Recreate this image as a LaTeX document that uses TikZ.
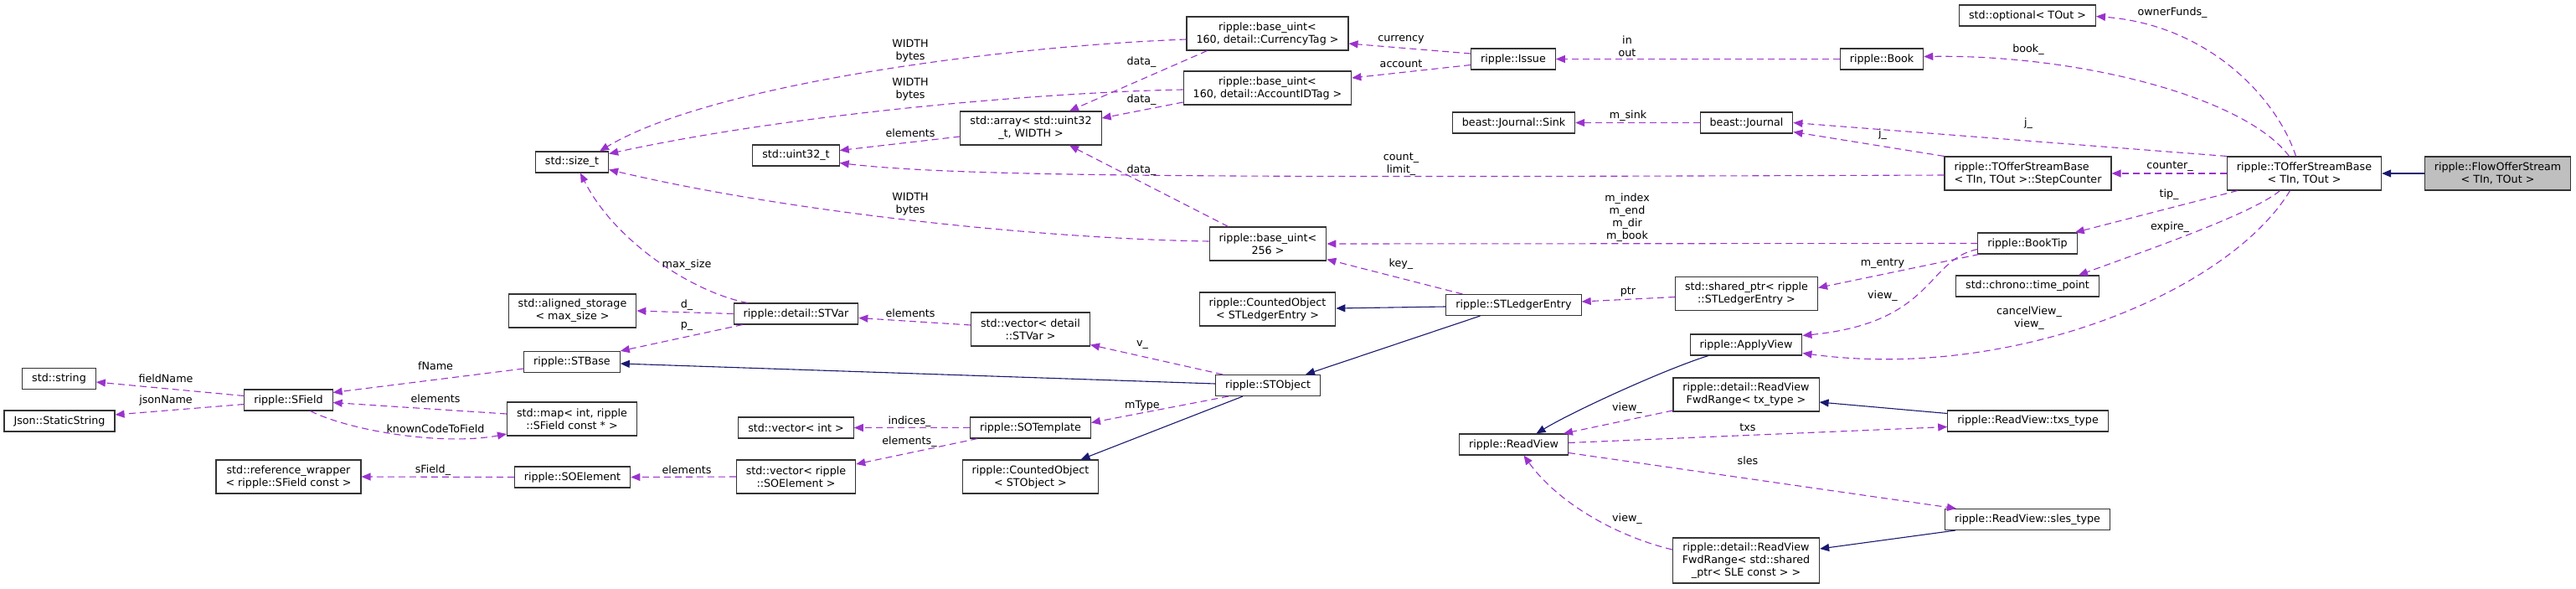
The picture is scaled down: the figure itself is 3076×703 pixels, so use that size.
\documentclass[tikz,border=0pt]{standalone}
\usepackage{fontspec}
\setmainfont{DejaVu Sans}
\usetikzlibrary{arrows.meta}
\definecolor{EdgePurple}{RGB}{154,50,205}
\definecolor{EdgeBlue}{RGB}{25,25,112}
\definecolor{NodeGray}{RGB}{191,191,191}
\tikzset{
	cls/.style={rectangle,draw=black!80,line width=1.1pt,inner xsep=11.5pt,inner ysep=2pt,minimum height=25pt,align=center},
	cls2/.style={cls,minimum height=40pt},
	cls3/.style={cls,minimum height=54pt},
	dep/.style={draw=EdgePurple,line width=1.1pt,dash pattern=on 8pt off 5pt,-{Triangle[length=11pt,width=9pt,fill=EdgePurple]}},
	inh/.style={draw=EdgeBlue,line width=1.1pt,-{Triangle[length=11pt,width=9pt,fill=EdgeBlue]}},
	lbl/.style={align=center,inner sep=0pt}
}
\begin{document}
\begin{tikzpicture}[x=1pt,y=-1pt,font=\fontsize{12.7}{15}\selectfont]
	\useasboundingbox (0,0) rectangle (3076,703);
	\node[cls2,fill=NodeGray] (flow) at (2982.5,207) {ripple::FlowOfferStream\\< TIn, TOut >};
	\node[cls2] (tosb) at (2751.5,207) {ripple::TOfferStreamBase\\< TIn, TOut >};
	\node[cls] (optional) at (2421,18.5) {std::optional< TOut >};
	\node[cls2,align=left] (stepctr) at (2421.5,207) {ripple::TOfferStreamBase\\< TIn, TOut >::StepCounter};
	\node[cls] (booktip) at (2421,290.5) {ripple::BookTip};
	\node[cls] (timept) at (2421,341.5) {std::chrono::time\_point};
	\node[cls] (txstype) at (2421.5,502.5) {ripple::ReadView::txs\_type};
	\node[cls] (slestype) at (2421,620) {ripple::ReadView::sles\_type};
	\node[cls] (book) at (2247,70.5) {ripple::Book};
	\node[cls] (journal) at (2085.5,146.5) {beast::Journal};
	\node[cls2] (sharedptr) at (2085.5,350.5) {std::shared\_ptr< ripple\\::STLedgerEntry >};
	\node[cls] (applyview) at (2085,411.5) {ripple::ApplyView};
	\node[cls2] (fwdtx) at (2085,471) {ripple::detail::ReadView\\FwdRange< tx\_type >};
	\node[cls3] (fwdsle) at (2085,669) {ripple::detail::ReadView\\FwdRange< std::shared\\\_ptr< SLE const > >};
	\node[cls] (issue) at (1807,70.5) {ripple::Issue};
	\node[cls] (sink) at (1807.5,146.5) {beast::Journal::Sink};
	\node[cls] (stle) at (1807.5,364) {ripple::STLedgerEntry};
	\node[cls] (readview) at (1807.5,530.5) {ripple::ReadView};
	\node[cls2] (curtag) at (1513.5,40) {ripple::base\_uint<\\160, detail::CurrencyTag >};
	\node[cls2] (acctag) at (1513.5,105) {ripple::base\_uint<\\160, detail::AccountIDTag >};
	\node[cls2] (uint256) at (1514,291) {ripple::base\_uint<\\256 >};
	\node[cls2] (cntstle) at (1513.5,369) {ripple::CountedObject\\< STLedgerEntry >};
	\node[cls] (stobject) at (1514,460) {ripple::STObject};
	\node[cls2] (array) at (1231,153) {std::array< std::uint32\\\_t, WIDTH >};
	\node[cls2] (stvec) at (1230.5,393) {std::vector< detail\\::STVar >};
	\node[cls] (sotemplate) at (1230.5,510.5) {ripple::SOTemplate};
	\node[cls2] (cntsto) at (1230.5,569) {ripple::CountedObject\\< STObject >};
	\node[cls] (uint32) at (950.5,185.5) {std::uint32\_t};
	\node[cls] (stvar) at (950.5,374.5) {ripple::detail::STVar};
	\node[cls] (intvec) at (950.5,510.5) {std::vector< int >};
	\node[cls2] (soevec) at (950.5,569) {std::vector< ripple\\::SOElement >};
	\node[cls] (sizet) at (683,193.5) {std::size\_t};
	\node[cls2] (aligned) at (683.5,371) {std::aligned\_storage\\< max\_size >};
	\node[cls] (stbase) at (683,432) {ripple::STBase};
	\node[cls2] (map) at (683,500) {std::map< int, ripple\\::SField const * >};
	\node[cls] (soelem) at (683.5,569.5) {ripple::SOElement};
	\node[cls] (sfield) at (344.5,477.5) {ripple::SField};
	\node[cls2] (refwrap) at (344.5,569) {std::reference\_wrapper\\< ripple::SField const >};
	\node[cls] (string) at (70.5,452) {std::string};
	\node[cls] (json) at (71,502.5) {Json::StaticString};
	\draw[inh] (flow.west) -- (tosb.east);
	\draw[inh] ([yshift=-2pt]stle.west) -- ([yshift=1pt]cntstle.east);
	\draw[inh] ([xshift=-40pt]stle.south) -- ([xshift=45pt]stobject.north);
	\draw[inh] ([yshift=2pt]stobject.west) -- ([yshift=-2pt]stbase.east);
	\draw[inh] ([xshift=-30pt]stobject.south) -- ([xshift=60pt]cntsto.north);
	\draw[inh] ([xshift=-45pt]applyview.south) .. controls (1990,440) and (1880,490) .. ([xshift=27pt]readview.north);
	\draw[inh] ([yshift=9pt]txstype.west) -- ([yshift=-9pt]fwdtx.east);
	\draw[inh] ([xshift=-86pt]slestype.south) -- ([yshift=14pt]fwdsle.east);
	\draw[dep] ([yshift=-7pt]curtag.west) .. controls (1200,55) and (850,100) .. ([xshift=33pt]sizet.north);
	\draw[dep] ([yshift=-2pt]acctag.west) .. controls (1250,110) and (950,135) .. ([yshift=10pt]sizet.east);
	\draw[dep] ([yshift=3pt]uint256.west) .. controls (1250,285) and (950,255) .. ([yshift=-9pt]sizet.east);
	\draw[dep] ([xshift=25pt]curtag.south west) -- ([xshift=46pt]array.north);
	\draw[dep] ([yshift=-17pt]acctag.west) -- ([yshift=12pt]array.east);
	\draw[dep] ([xshift=23pt]uint256.north west) -- ([xshift=46pt]array.south);
	\draw[dep] ([yshift=-10pt]array.west) -- ([yshift=6pt]uint32.east);
	\draw[dep] ([yshift=-2pt]stepctr.west) .. controls (1500,212) and (1150,212) .. ([yshift=-9pt]uint32.east);
	\draw[dep] ([xshift=17pt]stvar.north west) .. controls (830,350) and (735,290) .. ([xshift=10pt]sizet.south);
	\draw[dep] (stvar.west) -- (aligned.east);
	\draw[dep] ([xshift=11pt]stvar.south west) -- (stbase.north east);
	\draw[dep] ([yshift=5pt]stvec.west) -- ([yshift=-5pt]stvar.east);
	\draw[dep] ([xshift=9pt]stobject.north west) -- ([yshift=2pt]stvec.south east);
	\draw[dep] ([xshift=16pt]stobject.south west) -- ([yshift=6pt]sotemplate.east);
	\draw[dep] (sotemplate.west) -- (intvec.east);
	\draw[dep] ([xshift=9pt]sotemplate.south west) -- ([yshift=15pt]soevec.east);
	\draw[dep] (soevec.west) -- (soelem.east);
	\draw[dep] (soelem.west) -- (refwrap.east);
	\draw[dep] ([yshift=-8pt]stbase.west) -- ([yshift=9pt]sfield.east);
	\draw[dep] ([yshift=6pt]map.west) -- ([yshift=-3pt]sfield.east);
	\draw[dep] ([xshift=26pt]sfield.south) .. controls (420,515) and (530,532) .. ([yshift=-18pt]map.west);
	\draw[dep] ([yshift=5pt]sfield.west) -- ([yshift=-4pt]string.east);
	\draw[dep] ([yshift=-5pt]sfield.west) -- ([yshift=7.5pt]json.east);
	\draw[dep] ([yshift=6.5pt]issue.west) -- ([yshift=-12pt]curtag.east);
	\draw[dep] ([yshift=-7pt]issue.west) -- ([yshift=12pt]acctag.east);
	\draw[dep] (book.west) -- (issue.east);
	\draw[dep] (journal.west) -- (sink.east);
	\draw[dep] (tosb.north west) -- (journal.east);
	\draw[dep] (stepctr.north west) -- ([yshift=-11pt]journal.east);
	\draw[dep] (tosb.west) -- (stepctr.east);
	\draw[dep] ([xshift=-18pt]tosb.north) .. controls (2680,115) and (2480,65) .. ([yshift=3pt]book.east);
	\draw[dep] ([xshift=-10pt]tosb.north) .. controls (2720,120) and (2640,30) .. ([yshift=-1pt]optional.east);
	\draw[dep] ([xshift=13pt]tosb.south west) -- ([xshift=-3pt]booktip.north east);
	\draw[dep] ([xshift=-29pt]tosb.south) .. controls (2690,255) and (2560,300) .. ([xshift=-25pt]timept.north east);
	\draw[dep] ([xshift=-17pt]tosb.south) .. controls (2660,350) and (2400,455) .. ([yshift=-10pt]applyview.east);
	\draw[dep] (booktip.west) -- (uint256.east);
	\draw[dep] ([xshift=2pt]booktip.south west) -- ([yshift=7pt]sharedptr.east);
	\draw[dep] ([yshift=-7pt]booktip.west) .. controls (2300,310) and (2310,385) .. ([yshift=11pt]applyview.east);
	\draw[dep] ([yshift=-4pt]sharedptr.west) -- ([yshift=4pt]stle.east);
	\draw[dep] ([xshift=20pt]stle.north west) -- ([yshift=2pt]uint256.south east);
	\draw[dep] ([yshift=-19pt]fwdtx.west) -- ([xshift=-6pt]readview.north east);
	\draw[dep] ([yshift=2pt]readview.east) -- ([yshift=-7pt]txstype.west);
	\draw[dep] ([yshift=-10pt]readview.east) -- ([xshift=14pt]slestype.north west);
	\draw[dep] ([yshift=13pt]fwdsle.west) .. controls (1930,640) and (1860,600) .. ([xshift=12pt]readview.south);
	\node[lbl] (lwidth1) at (1087,61) {WIDTH\\bytes};
	\node[lbl] (lwidth2) at (1087,107) {WIDTH\\bytes};
	\node[lbl] (lwidth3) at (1087,244) {WIDTH\\bytes};
	\node[lbl] (ldata1) at (1363,74) {data\_};
	\node[lbl] (ldata2) at (1363,119) {data\_};
	\node[lbl] (ldata3) at (1363,203) {data\_};
	\node[lbl] (lelem1) at (1087,159) {elements};
	\node[lbl] (lmaxsize) at (820,316) {max\_size};
	\node[lbl] (ld) at (820,364) {d\_};
	\node[lbl] (lp) at (820,389) {p\_};
	\node[lbl] (lelem2) at (1087,374) {elements};
	\node[lbl] (lv) at (1364,412) {v\_};
	\node[lbl] (lmtype) at (1364,484) {mType};
	\node[lbl] (lindices) at (1086,503) {indices\_};
	\node[lbl] (lelem3) at (1086,527) {elements\_};
	\node[lbl] (lelem4) at (820,561) {elements};
	\node[lbl] (lsfield) at (517,561) {sField\_};
	\node[lbl] (lfname) at (520,437) {fName};
	\node[lbl] (lelem5) at (520,476) {elements};
	\node[lbl] (lknown) at (520,512) {knownCodeToField};
	\node[lbl] (lfieldname) at (198,452) {fieldName};
	\node[lbl] (ljsonname) at (198,478) {jsonName};
	\node[lbl] (lcurrency) at (1673,47) {currency};
	\node[lbl] (laccount) at (1673,76) {account};
	\node[lbl] (linout) at (1943,55) {in\\out};
	\node[lbl] (lmsink) at (1944,138) {m\_sink};
	\node[lbl] (lcount) at (1673,196) {count\_\\limit\_};
	\node[lbl] (lmindex) at (1943,260) {m\_index\\m\_end\\m\_dir\\m\_book};
	\node[lbl] (lkey) at (1673,315) {key\_};
	\node[lbl] (lptr) at (1944,348) {ptr};
	\node[lbl] (lowner) at (2594,15) {ownerFunds\_};
	\node[lbl] (lbook) at (2422,59) {book\_};
	\node[lbl] (lj1) at (2422,147) {j\_};
	\node[lbl] (lj2) at (2248,160) {j\_};
	\node[lbl] (lcounter) at (2591,199) {counter\_};
	\node[lbl] (ltip) at (2590,232) {tip\_};
	\node[lbl] (lexpire) at (2591,271) {expire\_};
	\node[lbl] (lmentry) at (2248,315) {m\_entry};
	\node[lbl] (lview1) at (2248,353) {view\_};
	\node[lbl] (lcancel) at (2423,380) {cancelView\_\\view\_};
	\node[lbl] (lview2) at (1943,487) {view\_};
	\node[lbl] (lview3) at (1943,619) {view\_};
	\node[lbl] (ltxs) at (2087,510) {txs};
	\node[lbl] (lsles) at (2087,550) {sles};
\end{tikzpicture}
\end{document}
